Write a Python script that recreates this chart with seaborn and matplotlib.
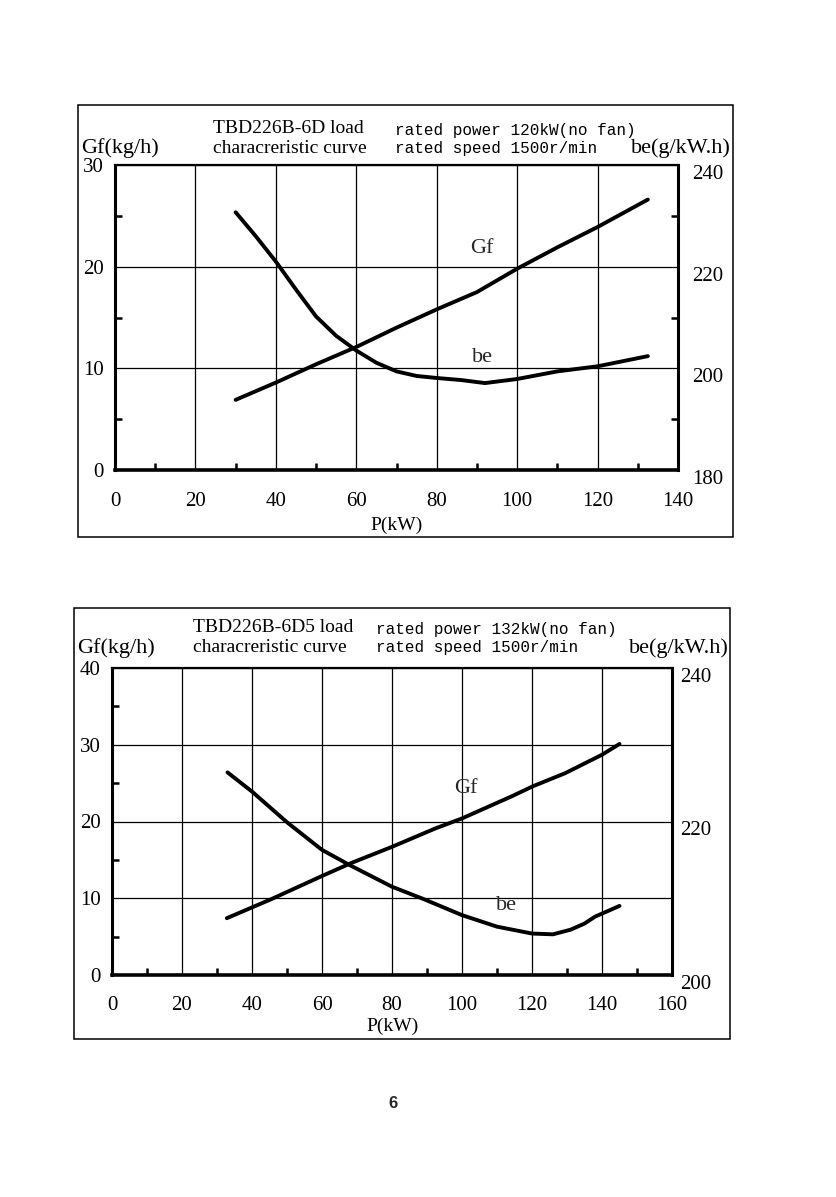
import numpy as np
import seaborn as sns
import matplotlib.pyplot as plt
from matplotlib.patches import Rectangle

# chart 1 : TBD226B-6D
p1_gf = [30, 40, 50, 60, 70, 80, 90, 100, 110, 120, 132.5]
gf1 = [6.9, 8.6, 10.4, 12.1, 14.0, 15.8, 17.5, 19.8, 21.9, 23.9, 26.6]
p1_be = [30, 35, 40, 45, 50, 55, 60, 65, 70, 75, 80, 86, 92, 100, 110, 120, 132.5]
be1 = [230.7, 226.0, 221.0, 215.5, 210.2, 206.4, 203.5, 201.1, 199.4, 198.5, 198.1, 197.7, 197.1, 197.9, 199.4, 200.4, 202.4]

# chart 2 : TBD226B-6D5
p2_gf = [32.8, 45.6, 60, 68.4, 80, 92.4, 100, 114.3, 120.3, 129.5, 140, 145]
gf2 = [7.4, 9.9, 12.9, 14.6, 16.7, 19.1, 20.4, 23.3, 24.6, 26.3, 28.7, 30.1]
p2_be = [33, 40, 50, 60, 68, 80, 89, 100, 110, 120, 126, 131, 135, 138, 145]
be2 = [226.4, 223.9, 219.9, 216.3, 214.3, 211.5, 209.9, 207.8, 206.3, 205.4, 205.3, 205.9, 206.7, 207.6, 209.0]

W, H = 836, 1197
MONO = ['Liberation Mono', 'DejaVu Sans Mono']

sns.set_theme(style="white")
plt.rcParams['font.family'] = ['Liberation Serif', 'DejaVu Serif']


def fx(px):
    return px / W


def fy(py):
    return 1 - py / H


def txt(fig, x, y, s, size, **kw):
    fig.text(fx(x), fy(y), s, fontsize=size, va='baseline', color='black', **kw)


def chart(fig, plot_px, frame_px, xmax, gfmax, be_lo, be_hi, be_minor,
          pg, gf, pb, be, gf_lab, be_lab, pads):
    l, t, r, b = plot_px
    ax = fig.add_axes([fx(l), fy(b), (r - l) / W, (b - t) / H])
    ax.set_facecolor('white')
    ax.set_xlim(0, xmax)
    ax.set_ylim(0, gfmax)
    ax.set_xticks(np.arange(0, xmax + 1, 20))
    ax.set_yticks(np.arange(0, gfmax + 1, 10))
    ax.set_xticks(np.arange(10, xmax, 20), minor=True)
    ax.set_yticks(np.arange(5, gfmax, 10), minor=True)
    ax.grid(True, which='major', color='black', lw=0.9)
    ax.tick_params(which='major', length=0, labelsize=15, colors='black')
    ax.tick_params(axis='x', which='major', pad=pads[0])
    ax.tick_params(axis='y', which='major', pad=pads[1])
    ax.tick_params(which='minor', direction='in', length=5, width=1.8, color='black',
                   bottom=True, left=True)
    for side, w in [('left', 2.2), ('bottom', 2.6), ('top', 1.6), ('right', 2.2)]:
        ax.spines[side].set_color('black')
        ax.spines[side].set_linewidth(w)

    ax2 = ax.twinx()
    ax2.set_ylim(be_lo, be_hi)
    ax2.set_yticks(np.arange(be_lo, be_hi + 1, 20))
    if be_minor:
        ax2.set_yticks(be_minor, minor=True)
    ax2.grid(False)
    ax2.tick_params(which='major', length=0, labelsize=15, colors='black', pad=pads[2])
    ax2.tick_params(which='minor', direction='in', length=5, width=1.8, color='black', right=True)
    for lab in ax2.get_yticklabels():
        lab.set_va('top')
    for s in ax2.spines.values():
        s.set_visible(False)

    sns.lineplot(x=pg, y=gf, ax=ax, color='black', lw=2.8, sort=False)
    sns.lineplot(x=pb, y=be, ax=ax2, color='black', lw=2.8, sort=False)
    ax.set_xlabel('')
    ax.set_ylabel('')
    ax2.set_ylabel('')

    ax.text(gf_lab[0], gf_lab[1], 'Gf', fontsize=16, ha='center', va='center')
    ax2.text(be_lab[0], be_lab[1], 'be', fontsize=16, ha='center', va='center')

    fl, ft, fr, fb = frame_px
    fig.add_artist(Rectangle((fx(fl), fy(fb)), (fr - fl) / W, (fb - ft) / H,
                             transform=fig.transFigure, fill=False, ec='black', lw=1.1))


fig = plt.figure(figsize=(W / 100, H / 100), dpi=100)
fig.patch.set_facecolor('white')

# top chart
chart(fig, (115, 165, 678, 470), (78, 105, 733, 537), 140, 30, 180, 240, [190, 210, 230],
      p1_gf, gf1, p1_be, be1, (91.3, 21.8), (91.3, 202.1), (16, 8, 10))
txt(fig, 213, 133, 'TBD226B-6D load', 14)
txt(fig, 213, 153, 'characreristic curve', 14)
txt(fig, 395, 135, 'rated power 120kW(no fan)', 11.5, family=MONO)
txt(fig, 395, 153, 'rated speed 1500r/min', 11.5, family=MONO)
txt(fig, 81, 153, 'Gf(kg/h)', 16)
txt(fig, 731, 153, 'be(g/kW.h)', 16, ha='right')
txt(fig, 397, 530, 'P(kW)', 14, ha='center')

# bottom chart
chart(fig, (112, 668, 672, 975), (74, 608, 730, 1039), 160, 40, 200, 240, None,
      p2_gf, gf2, p2_be, be2, (101, 24.3), (112.6, 209.1), (15, 8, 6))
txt(fig, 193, 632, 'TBD226B-6D5 load', 14)
txt(fig, 193, 652, 'characreristic curve', 14)
txt(fig, 376, 634, 'rated power 132kW(no fan)', 11.5, family=MONO)
txt(fig, 376, 652, 'rated speed 1500r/min', 11.5, family=MONO)
txt(fig, 77, 653, 'Gf(kg/h)', 16)
txt(fig, 729, 653, 'be(g/kW.h)', 16, ha='right')
txt(fig, 393, 1031, 'P(kW)', 14, ha='center')

fig.text(fx(393), fy(1103), '6', fontsize=12, fontweight='bold', ha='center', va='center',
         family=['Liberation Sans', 'DejaVu Sans'])

fig.savefig('out.png', dpi=100, facecolor='white')
